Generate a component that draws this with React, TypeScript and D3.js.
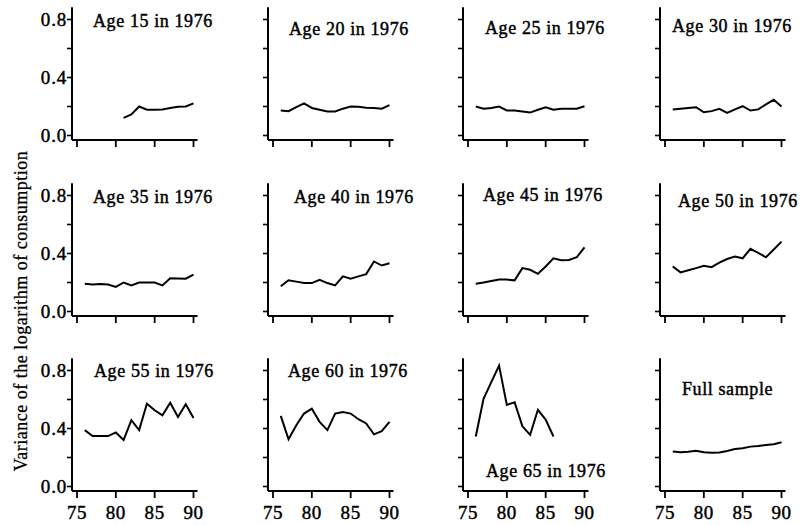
import React from "react";
import * as d3 from "d3";

// ---------- data ----------
const YEARS_FULL = [76, 77, 78, 79, 80, 81, 82, 83, 84, 85, 86, 87, 88, 89, 90];
const YEARS_AGE15 = [81, 82, 83, 84, 85, 86, 87, 88, 89, 90];
const YEARS_AGE65 = [76, 77, 78, 79, 80, 81, 82, 83, 84, 85, 86];

const age15 = [0.122, 0.145, 0.2, 0.178, 0.177, 0.18, 0.19, 0.198, 0.2, 0.222];
const age20 = [0.172, 0.168, 0.195, 0.222, 0.19, 0.178, 0.166, 0.166, 0.185, 0.2, 0.198, 0.192, 0.19, 0.185, 0.21];
const age25 = [0.2, 0.185, 0.19, 0.2, 0.173, 0.173, 0.165, 0.158, 0.178, 0.195, 0.178, 0.184, 0.184, 0.185, 0.202];
const age30 = [0.18, 0.185, 0.19, 0.195, 0.16, 0.168, 0.184, 0.156, 0.18, 0.202, 0.172, 0.18, 0.215, 0.246, 0.2];
const age35 = [0.192, 0.186, 0.19, 0.186, 0.17, 0.2, 0.18, 0.2, 0.2, 0.2, 0.18, 0.23, 0.228, 0.226, 0.255];
const age40 = [0.174, 0.215, 0.206, 0.196, 0.196, 0.219, 0.196, 0.18, 0.242, 0.226, 0.242, 0.258, 0.345, 0.317, 0.333];
const age45 = [0.192, 0.2, 0.21, 0.22, 0.22, 0.215, 0.299, 0.288, 0.26, 0.31, 0.367, 0.353, 0.355, 0.374, 0.443];
const age50 = [0.31, 0.27, 0.284, 0.299, 0.315, 0.306, 0.337, 0.362, 0.379, 0.367, 0.432, 0.405, 0.374, 0.428, 0.482];
const age55 = [0.389, 0.348, 0.348, 0.348, 0.373, 0.321, 0.457, 0.389, 0.571, 0.526, 0.491, 0.578, 0.48, 0.567, 0.473];
const age60 = [0.487, 0.326, 0.423, 0.503, 0.537, 0.446, 0.389, 0.503, 0.514, 0.503, 0.464, 0.435, 0.36, 0.382, 0.446];
const age65 = [0.345, 0.605, 0.72, 0.834, 0.563, 0.581, 0.416, 0.356, 0.529, 0.462, 0.345];
const fullSample = [0.241, 0.237, 0.24, 0.246, 0.236, 0.232, 0.235, 0.245, 0.259, 0.264, 0.275, 0.28, 0.287, 0.291, 0.305];

const TITLES = [
  "Age 15 in 1976", "Age 20 in 1976", "Age 25 in 1976", "Age 30 in 1976",
  "Age 35 in 1976", "Age 40 in 1976", "Age 45 in 1976", "Age 50 in 1976",
  "Age 55 in 1976", "Age 60 in 1976", "Age 65 in 1976", "Full sample",
];
const SERIES_YEARS = [
  YEARS_AGE15, YEARS_FULL, YEARS_FULL, YEARS_FULL,
  YEARS_FULL, YEARS_FULL, YEARS_FULL, YEARS_FULL,
  YEARS_FULL, YEARS_FULL, YEARS_AGE65, YEARS_FULL,
];
const SERIES_VALUES = [
  age15, age20, age25, age30,
  age35, age40, age45, age50,
  age55, age60, age65, fullSample,
];

const X_TICKS = [75, 80, 85, 90];
const X_TICK_LABELS = ["75", "80", "85", "90"];
const Y_TICKS = [0, 0.2, 0.4, 0.6, 0.8];
const Y_TICK_LABELS = ["0.0", "", "0.4", "", "0.8"];
const Y_TITLE = "Variance of the logarithm of consumption";

// ---------- layout ----------
const W = 803;
const H = 525;
const COL_X = [77, 273, 468, 665]; // pixel of year 75
const ROW_Y = [135.5, 311.5, 486.5]; // pixel of value 0.0
const PLOT_W = 116.5;
const PLOT_H = 116; // 0.0 -> 0.8
const TITLE_OFFSETS: [number, number][] = [
  [16, -108.5], [16, -100.5], [17, -101.5], [7, -103.5],
  [16, -108.5], [21, -108.5], [15, -110.5], [13, -104.5],
  [17, -109.5], [15, -109.5], [18, -9.5], [17, -91.5],
];
const FONT = "'Liberation Serif', 'Times New Roman', Times, serif";

const xScale = d3.scaleLinear().domain([75, 90]).range([0, PLOT_W]);
const yScale = d3.scaleLinear().domain([0, 0.8]).range([0, -PLOT_H]);

const textStyle = {
  fontFamily: FONT,
  fill: "#000",
  stroke: "#000",
};

function Panel({ idx }: { idx: number }) {
  const col = idx % 4;
  const row = Math.floor(idx / 4);
  const x0 = COL_X[col];
  const y0 = ROW_Y[row];
  const years = SERIES_YEARS[idx];
  const vals = SERIES_VALUES[idx];
  const pts: [number, number][] = years.map((yr, i) => [yr, vals[i]]);
  const line = d3
    .line<[number, number]>()
    .x((d) => xScale(d[0]))
    .y((d) => yScale(d[1]));
  const axisX = xScale(75) - 5;
  const axisYb = 4.5;
  const axisTop = yScale(0.885);
  const [tdx, tdy] = TITLE_OFFSETS[idx];
  return (
    <g transform={`translate(${x0},${y0})`}>
      {/* y axis */}
      <line x1={axisX} x2={axisX} y1={axisTop} y2={axisYb} stroke="#000" strokeWidth={2} />
      {Y_TICKS.map((t, i) => (
        <g key={"yt" + i}>
          <line x1={axisX - 5} x2={axisX} y1={yScale(t)} y2={yScale(t)} stroke="#000" strokeWidth={1.6} />
          {col === 0 && Y_TICK_LABELS[i] !== "" && (
            <text
              x={axisX - 5}
              y={yScale(t) + 6}
              textAnchor="end"
              fontSize={19}
              letterSpacing={0.8}
              strokeWidth={0.45}
              style={textStyle}
            >
              {Y_TICK_LABELS[i]}
            </text>
          )}
        </g>
      ))}
      {/* x axis */}
      <line x1={axisX} x2={xScale(90) + 4} y1={axisYb} y2={axisYb} stroke="#000" strokeWidth={2} />
      {X_TICKS.map((t, i) => (
        <g key={"xt" + i}>
          <line x1={xScale(t)} x2={xScale(t)} y1={axisYb} y2={axisYb + 7} stroke="#000" strokeWidth={1.8} />
          {row === 2 && (
            <text
              x={xScale(t)}
              y={axisYb + 28}
              textAnchor="middle"
              fontSize={19}
              letterSpacing={0.6}
              strokeWidth={0.45}
              style={textStyle}
            >
              {X_TICK_LABELS[i]}
            </text>
          )}
        </g>
      ))}
      {/* series */}
      <path d={line(pts) || ""} fill="none" stroke="#000" strokeWidth={2} strokeLinejoin="miter" />
      {/* title */}
      <text
        x={tdx}
        y={tdy}
        fontSize={18}
        letterSpacing={0.6}
        strokeWidth={0.45}
        style={textStyle}
      >
        {TITLES[idx]}
      </text>
    </g>
  );
}

export default function App() {
  return (
    <svg
      width={W}
      height={H}
      viewBox={`0 0 ${W} ${H}`}
      style={{ position: "absolute", left: 0, top: 0, background: "#fff" }}
    >
      <rect x={0} y={0} width={W} height={H} fill="#fff" />
      {TITLES.map((_, i) => (
        <Panel key={i} idx={i} />
      ))}
      <text
        transform={`translate(27,311) rotate(-90)`}
        textAnchor="middle"
        fontSize={18}
        letterSpacing={0.5}
        strokeWidth={0.3}
        style={textStyle}
      >
        {Y_TITLE}
      </text>
    </svg>
  );
}
